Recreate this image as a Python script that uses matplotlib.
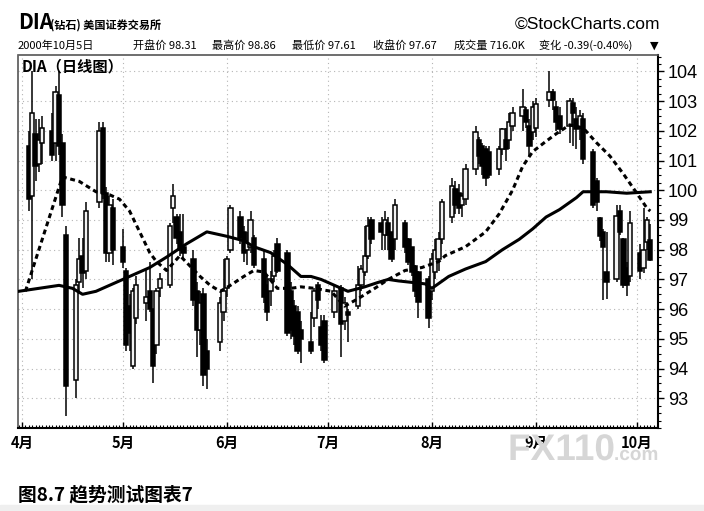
import matplotlib
matplotlib.use('Agg')
import matplotlib.pyplot as plt
import matplotlib.dates as mdates
import pandas as pd
from matplotlib.ticker import MultipleLocator, FixedLocator
from matplotlib.textpath import TextPath
from matplotlib.patches import PathPatch
from matplotlib.font_manager import FontProperties
from matplotlib.transforms import Affine2D

plt.rcParams['font.family'] = ['Noto Sans CJK SC', 'DejaVu Sans']

# trading days shown (Apr 3 - Oct 5, 2000)
holidays = ['2000-04-21', '2000-05-29', '2000-07-04', '2000-09-04']
days = pd.bdate_range('2000-04-03', '2000-10-05')
days = days[~days.isin(pd.to_datetime(holidays))]

# daily OHLC
opens = [101.5, 99.8, 101.9, 100.9, 101.6, 102.0, 101.6, 103.2, 101.6, 98.5, 93.6, 96.9, 97.8, 97.3, 99.6, 102.1, 99.9, 97.9, 99.4,
         98.1, 97.3, 96.1, 94.1, 95.7, 96.2, 96.6, 96.0, 94.8, 96.7, 96.8, 99.4, 99.1, 98.6, 98.1, 97.7, 96.6, 95.3, 96.5, 94.6, 94.9, 95.9,
         96.7, 98.0, 99.1, 98.6, 98.0, 98.1, 98.4, 97.7, 96.8, 96.6, 97.1, 98.2, 97.9, 96.6, 96.1, 95.9, 95.3, 94.9, 95.7, 96.8, 95.4, 95.6,
         95.9, 96.7, 95.6, 95.9, 96.1, 96.8, 97.25, 97.8, 99.0, 98.9, 98.5, 98.9, 98.6, 98.35, 98.9, 98.35, 98.1, 97.45, 97.25, 97.0,
         96.6, 97.25, 97.7, 98.35, 99.1, 100.05, 99.9, 99.5, 99.7, 100.7, 101.7, 101.5, 101.4, 101.3, 100.7, 101.4, 101.7, 101.7, 102.15, 102.5, 102.7, 102.15, 101.95,
         102.1, 103.05, 103.3, 102.8, 102.5, 102.15, 102.95, 102.4, 102.1, 102.4, 101.3, 100.3, 99.05, 98.6, 97.25, 97.0, 99.3, 98.35, 97.4, 97.1,
         97.9, 97.4, 98.25, 98.31]
highs = [102.0, 104.0, 102.4, 102.4, 102.5, 102.6, 103.5, 104.0, 101.9, 98.8, 97.0, 98.4, 98.4, 99.6, 102.3, 102.3, 100.1, 99.8, 99.7,
         98.7, 97.4, 96.5, 96.7, 97.1, 97.4, 97.6, 96.0, 96.7, 97.2, 98.9, 100.2, 99.2, 99.2, 99.2, 98.0, 96.9, 96.6, 96.7, 95.0, 96.4, 97.7,
         97.8, 99.5, 99.3, 98.8, 98.6, 99.3, 98.5, 98.0, 97.1, 97.3, 98.0, 98.4, 98.0, 96.9, 96.3, 96.1, 95.6, 95.9, 96.7, 96.9, 95.8, 95.8,
         96.8, 96.8, 96.4, 96.0, 97.45, 97.5, 98.8, 99.1, 99.1, 99.1, 99.3, 99.1, 98.6, 99.7, 99.0, 98.4, 98.1, 97.5, 97.3, 97.1,
         97.9, 98.35, 98.6, 99.7, 100.4, 100.3, 100.2, 99.9, 100.9, 102.15, 101.8, 101.6, 101.5, 101.5, 101.5, 102.1, 102.1, 102.6, 102.8, 103.4, 102.8, 102.4, 103.0,
         103.1, 104.0, 103.4, 103.0, 102.8, 103.1, 103.1, 102.8, 102.7, 102.6, 101.4, 100.4, 99.1, 98.7, 98.6, 99.5, 99.5, 98.4, 97.6, 99.3,
         98.2, 99.4, 99.1, 98.86]
lows = [99.3, 97.0, 100.3, 100.6, 100.9, 101.0, 101.0, 101.2, 99.1, 92.4, 93.0, 96.5, 96.7, 97.0, 99.4, 99.7, 97.6, 97.6, 97.5,
        97.4, 94.6, 94.6, 94.0, 95.5, 95.6, 95.9, 93.5, 94.5, 96.4, 96.7, 98.9, 98.2, 97.8, 97.7, 96.1, 94.4, 94.8, 93.4, 93.3, 94.6, 95.6,
        96.4, 97.9, 98.2, 97.6, 97.5, 97.9, 97.4, 96.2, 95.6, 96.1, 96.9, 97.2, 95.1, 95.0, 94.8, 94.5, 94.2, 94.5, 95.4, 96.0, 94.6, 94.2,
        95.7, 94.4, 95.3, 94.9, 96.0, 96.6, 97.1, 97.7, 98.2, 98.0, 98.0, 98.0, 97.6, 98.0, 97.9, 97.5, 97.1, 96.4, 95.7, 95.35,
        96.3, 97.0, 97.3, 98.2, 98.9, 99.2, 99.2, 99.1, 99.5, 100.5, 100.9, 100.5, 100.15, 100.4, 100.5, 101.2, 101.0, 101.4, 102.0, 102.0, 102.1, 101.15, 101.7,
        101.8, 102.8, 102.7, 102.0, 101.9, 101.6, 101.5, 101.4, 101.7, 100.9, 99.4, 99.3, 98.3, 96.3, 96.35, 96.9, 98.5, 96.7, 96.45, 96.9,
        97.0, 97.2, 98.0, 97.61]
closes = [99.7, 102.6, 100.8, 101.7, 102.1, 101.2, 103.3, 101.5, 99.5, 93.4, 96.8, 97.7, 97.2, 99.3, 102.0, 99.9, 97.9, 99.5, 98.0,
          97.6, 94.8, 95.2, 96.6, 96.8, 96.4, 96.0, 94.1, 96.6, 97.0, 98.8, 99.8, 98.4, 98.0, 97.9, 96.3, 95.3, 96.2, 93.8, 94.0, 96.2, 96.6,
          97.7, 99.4, 98.4, 97.9, 98.3, 99.0, 97.5, 96.4, 95.9, 97.0, 97.8, 97.3, 95.2, 95.3, 95.1, 94.6, 95.0, 94.6, 96.6, 96.3, 94.8, 94.3,
          96.6, 95.5, 96.2, 95.8, 96.8, 97.35, 97.8, 98.8, 98.35, 98.6, 99.0, 98.5, 97.7, 99.5, 98.1, 97.6, 97.25, 96.6, 96.25, 95.7,
          97.7, 98.0, 98.35, 99.6, 100.15, 99.5, 99.4, 99.8, 100.7, 101.95, 101.15, 100.8, 100.4, 100.5, 101.4, 102.05, 101.4, 102.3, 102.6, 102.8, 102.3, 101.5, 102.8,
          102.9, 103.3, 103.05, 102.3, 102.05, 103.0, 102.6, 102.05, 102.5, 101.05, 99.5, 99.6, 98.45, 98.1, 96.9, 99.15, 98.6, 96.8, 96.8, 98.9,
          97.3, 98.0, 99.0, 97.67]

# dotted (short) moving average
ma_short_dates = ['2000-04-02', '2000-04-13', '2000-04-18', '2000-04-23', '2000-04-27', '2000-04-30', '2000-05-03',
                  '2000-05-06', '2000-05-09', '2000-05-11', '2000-05-14', '2000-05-18', '2000-05-21', '2000-05-24',
                  '2000-05-27', '2000-05-30', '2000-06-02', '2000-06-06', '2000-06-09', '2000-06-12', '2000-06-16',
                  '2000-06-20', '2000-06-23', '2000-06-27', '2000-07-02', '2000-07-06', '2000-07-10', '2000-07-15',
                  '2000-07-19', '2000-07-24', '2000-07-29', '2000-08-03', '2000-08-05', '2000-08-11', '2000-08-17',
                  '2000-08-21', '2000-08-25', '2000-08-28', '2000-08-31', '2000-09-04', '2000-09-07', '2000-09-11',
                  '2000-09-15', '2000-09-19', '2000-09-23', '2000-09-27', '2000-10-01', '2000-10-04', '2000-10-05']
ma_short = [96.6, 100.45, 100.3, 99.95, 99.85, 99.7, 99.3, 98.6, 97.9, 97.6, 97.3, 97.8, 97.45, 97.1, 96.8, 96.6,
            96.8, 97.1, 97.3, 97.25, 96.7, 96.7, 96.75, 96.7, 96.6, 96.1, 96.35, 96.7, 97.0, 97.3, 97.4, 97.6, 97.8,
            98.1, 98.6, 99.2, 100.0, 100.8, 101.3, 101.65, 101.9, 102.2, 102.1, 101.6, 101.15, 100.55, 99.9, 99.4, 99.3]

# solid (long) moving average
ma_long_dates = ['2000-03-31', '2000-04-06', '2000-04-12', '2000-04-16', '2000-04-19', '2000-04-23', '2000-04-27',
                 '2000-05-03', '2000-05-09', '2000-05-14', '2000-05-20', '2000-05-26', '2000-06-01', '2000-06-06',
                 '2000-06-09', '2000-06-14', '2000-06-19', '2000-06-23', '2000-06-26', '2000-06-29', '2000-07-03',
                 '2000-07-07', '2000-07-12', '2000-07-16', '2000-07-19', '2000-07-22', '2000-07-26', '2000-07-30',
                 '2000-08-01', '2000-08-06', '2000-08-11', '2000-08-17', '2000-08-22', '2000-08-27', '2000-08-31',
                 '2000-09-04', '2000-09-08', '2000-09-13', '2000-09-15', '2000-09-22', '2000-09-28', '2000-10-05']
ma_long = [96.6, 96.7, 96.8, 96.7, 96.5, 96.6, 96.8, 97.1, 97.4, 97.75, 98.2, 98.6, 98.45, 98.3, 98.1, 97.9, 97.5,
           97.1, 97.1, 97.0, 96.8, 96.6, 96.75, 96.9, 97.0, 96.95, 96.9, 96.85, 96.7, 97.1, 97.35, 97.6, 98.0, 98.35,
           98.7, 99.1, 99.35, 99.75, 99.95, 99.95, 99.9, 99.95]

price_ticks = list(range(93, 105))
month_labels = ['4月', '5月', '6月', '7月', '8月', '9月', '10月']
header_items = [('开盘价', '98.31'), ('最高价', '98.86'), ('最低价', '97.61'),
                ('收盘价', '97.67'), ('成交量', '716.0K'), ('变化', '-0.39(-0.40%)')]

fig = plt.figure(figsize=(7.04, 5.11), dpi=100)
ax = fig.add_axes([0.0256, 0.1624, 0.909, 0.7299])

# candles: hollow = up day, filled = down day
x = mdates.date2num(days)
for xi, o, h, l, c in zip(x, opens, highs, lows, closes):
    ax.vlines(xi, l, h, color='black', linewidth=1.1, zorder=3)
    bottom = min(o, c)
    height = max(abs(c - o), 0.06)
    face = '#f2f2f2' if c >= o else 'black'
    ax.bar(xi, height, bottom=bottom, width=1.3, color=face, edgecolor='black',
           linewidth=1.1, zorder=4)

ax.plot(pd.to_datetime(ma_long_dates), ma_long, color='black', linewidth=2.2,
        solid_joinstyle='round', zorder=5)
ax.plot(pd.to_datetime(ma_short_dates), ma_short, color='black', linewidth=2.2,
        linestyle=(0, (1.6, 1.2)), zorder=5)

ax.set_xlim(mdates.date2num(pd.Timestamp('2000-03-30 19:00')),
            mdates.date2num(pd.Timestamp('2000-10-07 07:00')))
ax.set_ylim(92.0, 104.55)

# axes and grid
ax.yaxis.tick_right()
ax.yaxis.set_major_locator(FixedLocator(price_ticks))
ax.yaxis.set_minor_locator(MultipleLocator(0.25))
ax.xaxis.set_major_locator(mdates.MonthLocator())
ax.xaxis.set_minor_locator(mdates.DayLocator())
ax.xaxis.set_major_formatter(plt.FuncFormatter(
    lambda v, p: month_labels[p] if p is not None and p < len(month_labels) else ''))
ax.tick_params(axis='y', which='major', labelsize=13, length=4, width=1, direction='out', pad=3)
ax.tick_params(axis='y', which='minor', length=2, width=0.8, direction='out')
ax.tick_params(axis='x', which='major', labelsize=10.5, length=4, width=1, direction='in', pad=5)
ax.tick_params(axis='x', which='minor', length=2, width=0.8, direction='in')
for lab in ax.get_yticklabels():
    lab.set_fontfamily(['Liberation Sans', 'DejaVu Sans'])
for lab in ax.get_xticklabels():
    lab.set_fontweight('bold')

ax.grid(True, which='major', color='#b5b5b5', linestyle=(0, (1, 3)), linewidth=0.8)
for side in ['left', 'top']:
    ax.spines[side].set_color('#555555')
    ax.spines[side].set_linestyle((0, (1, 1)))
    ax.spines[side].set_linewidth(1.2)
for side in ['bottom', 'right']:
    ax.spines[side].set_color('black')
    ax.spines[side].set_linewidth(1.5)

ax.text(0.006, 0.992, 'DIA（日线图）', transform=ax.transAxes, ha='left', va='top',
        fontsize=11, fontweight='bold', zorder=6)

# header
fig.text(18 / 704, 1 - 29 / 511, 'DIA', fontsize=15, fontweight='bold', va='baseline')
fig.text(50 / 704, 1 - 29 / 511, '(钻石) 美国证券交易所', fontsize=8, fontweight='bold', va='baseline')
fig.text(660 / 704, 1 - 29 / 511, '©StockCharts.com', fontsize=12.5, ha='right', va='baseline',
         family=['Liberation Sans', 'DejaVu Sans'])
fig.text(18 / 704, 1 - 49 / 511, '2000年10月5日', fontsize=8, va='baseline')
header_x = [133, 212, 292, 373, 454, 539]
for hx, (name, val) in zip(header_x, header_items):
    fig.text(hx / 704, 1 - 49 / 511, name + ' ' + val, fontsize=8, va='baseline')
fig.text(650 / 704, 1 - 49 / 511, '▼', fontsize=8, va='baseline', family=['DejaVu Sans'])

# faint watermark from the scan, drawn as a shape in pixel coordinates
wm_font = FontProperties(family='Liberation Sans', weight='bold')
for txt, size, px in [('FX110', 37, 508), ('.com', 19, 614)]:
    path = TextPath((0, 0), txt, size=size, prop=wm_font)
    fig.add_artist(PathPatch(path, facecolor='#d6d6d6', edgecolor='none', zorder=10,
                             transform=Affine2D().translate(px, 511 - 460)))

fig.text(18 / 704, 1 - 500 / 511, '图8.7 趋势测试图表7', fontsize=13.5, fontweight='bold', va='baseline')
fig.patches.append(plt.Rectangle((0, 0), 1, 6 / 511, transform=fig.transFigure,
                                 color='#efefef', zorder=0))

fig.savefig('out.png', dpi=100)
